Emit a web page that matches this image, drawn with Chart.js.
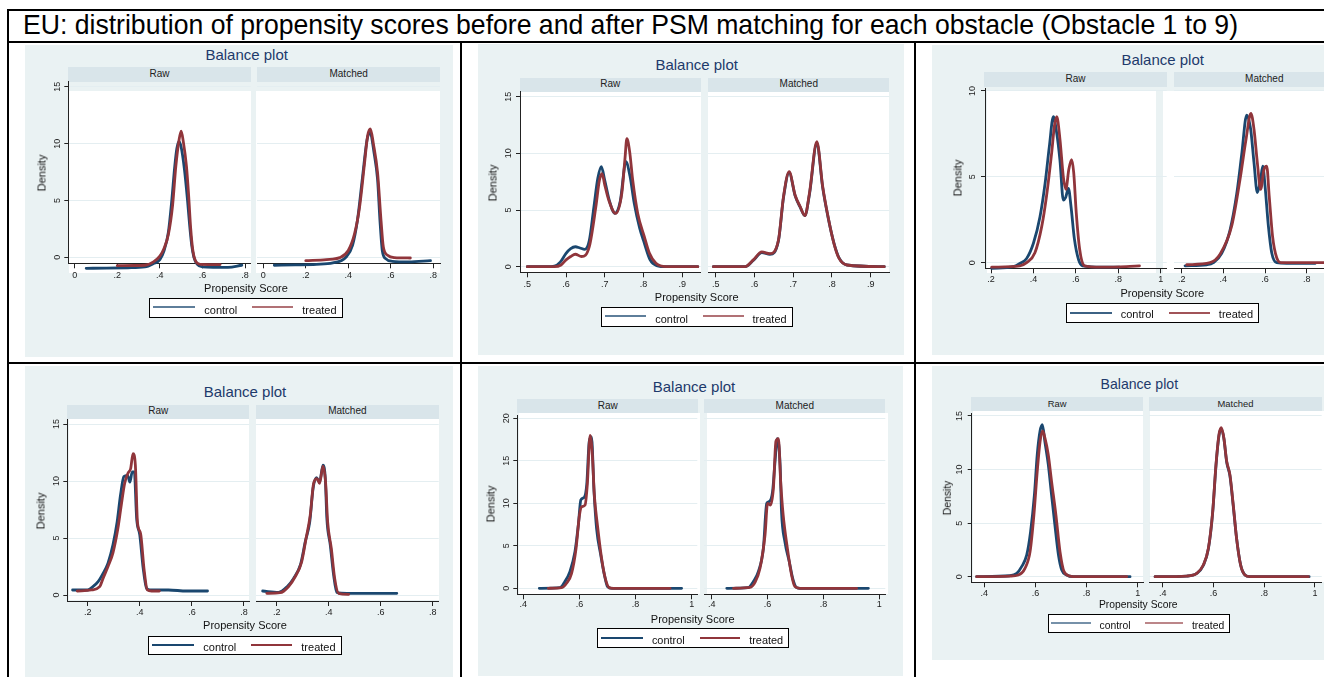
<!DOCTYPE html>
<html><head><meta charset="utf-8">
<script src="https://cdn.jsdelivr.net/npm/chart.js@4.4.1/dist/chart.umd.min.js"></script>
<style>
html,body{margin:0;padding:0;background:#fff;}
#root{position:relative;width:1324px;height:677px;overflow:hidden;font-family:"Liberation Sans",Arial,Helvetica,sans-serif;background:#fff;}
</style></head>
<body><div id="root"></div>
<script>
// ---------------- DATA ----------------
const TITLE = 'EU: distribution of propensity scores before and after PSM matching for each obstacle (Obstacle 1 to 9)';
const PANEL_TITLE = 'Balance plot';
const SUB_LABELS = ['Raw', 'Matched'];
const GROUP_LABELS = ['control', 'treated'];
const X_TITLE = 'Propensity Score';
const Y_TITLE = 'Density';

// Panel 1
const o1XTicks = [0, 0.2, 0.4, 0.6, 0.8];
const o1YTicks = [0, 5, 10, 15];
const o1RawControlX = [0.054, 0.15, 0.25, 0.33, 0.37, 0.40, 0.42, 0.44, 0.455, 0.47, 0.48, 0.49, 0.50, 0.515, 0.53, 0.54, 0.55, 0.56, 0.575, 0.60, 0.65, 0.72, 0.785];
const o1RawControlY = [-0.97, -0.95, -0.92, -0.85, -0.55, -0.2, 0.6, 2.2, 4.8, 8.0, 9.6, 10.2, 9.7, 7.8, 5.0, 2.8, 1.0, 0.0, -0.6, -0.85, -0.88, -0.88, -0.7];
const o1RawTreatedX = [0.20, 0.28, 0.33, 0.37, 0.40, 0.42, 0.44, 0.46, 0.475, 0.49, 0.50, 0.51, 0.525, 0.535, 0.545, 0.555, 0.567, 0.59, 0.683];
const o1RawTreatedY = [-0.74, -0.72, -0.7, -0.4, 0.1, 0.8, 2.0, 4.6, 8.0, 10.3, 11.1, 10.2, 8.0, 5.5, 2.5, 0.6, -0.3, -0.62, -0.64];
const o1MatchedControlX = [0.052, 0.15, 0.25, 0.327, 0.39, 0.42, 0.443, 0.467, 0.488, 0.502, 0.522, 0.538, 0.549, 0.56, 0.576, 0.607, 0.685, 0.787];
const o1MatchedControlY = [-0.7, -0.67, -0.62, -0.5, 0.03, 1.05, 3.25, 7.06, 10.3, 11.0, 9.1, 6.8, 3.25, 0.6, -0.12, -0.35, -0.4, -0.3];
const o1MatchedTreatedX = [0.20, 0.297, 0.36, 0.40, 0.43, 0.453, 0.476, 0.491, 0.504, 0.518, 0.538, 0.554, 0.565, 0.585, 0.617, 0.692];
const o1MatchedTreatedY = [-0.3, -0.2, -0.03, 0.6, 2.1, 4.4, 8.2, 10.7, 11.3, 10.0, 7.4, 3.25, 0.9, 0.18, -0.03, -0.06];

// Panel 2
const o2XTicks = [0.5, 0.6, 0.7, 0.8, 0.9];
const o2YTicks = [0, 5, 10, 15];
const o2RawControlX = [0.50, 0.55, 0.57, 0.585, 0.60, 0.612, 0.624, 0.636, 0.648, 0.66, 0.672, 0.682, 0.691, 0.70, 0.712, 0.726, 0.74, 0.7545, 0.765, 0.776, 0.79, 0.80, 0.817, 0.834, 0.86, 0.94];
const o2RawControlY = [0, 0, 0.05, 0.4, 1.18, 1.6, 1.76, 1.65, 1.53, 2.3, 5.3, 7.8, 8.82, 7.6, 5.8, 4.7, 5.8, 9.26, 8.0, 5.6, 3.4, 2.3, 0.6, 0.1, 0, 0];
const o2RawTreatedX = [0.50, 0.57, 0.587, 0.60, 0.612, 0.624, 0.64, 0.66, 0.677, 0.686, 0.693, 0.70, 0.71, 0.728, 0.744, 0.752, 0.757, 0.764, 0.772, 0.785, 0.802, 0.815, 0.832, 0.858, 0.94];
const o2RawTreatedY = [0, 0, 0.15, 0.6, 0.9, 1.1, 0.9, 1.76, 5.3, 7.6, 8.2, 7.2, 5.9, 4.7, 6.5, 9.5, 11.3, 10.2, 7.65, 4.7, 2.65, 1.2, 0.3, 0, 0];
const o2MatchedControlX = [0.494, 0.576, 0.597, 0.619, 0.64, 0.662, 0.675, 0.6895, 0.705, 0.718, 0.73, 0.742, 0.761, 0.776, 0.79, 0.805, 0.818, 0.839, 0.935];
const o2MatchedControlY = [0, 0, 0.55, 1.25, 1.1, 2.3, 6.1, 8.3, 6.25, 5.25, 4.5, 6.4, 10.9, 7.0, 4.35, 2.1, 0.8, 0.15, 0];
const o2MatchedTreatedX = [0.494, 0.576, 0.597, 0.619, 0.64, 0.662, 0.675, 0.6895, 0.705, 0.718, 0.73, 0.742, 0.761, 0.776, 0.79, 0.805, 0.818, 0.839, 0.935];
const o2MatchedTreatedY = [0, 0, 0.6, 1.3, 1.15, 2.35, 6.2, 8.38, 6.3, 5.3, 4.5, 6.5, 11.03, 7.1, 4.4, 2.06, 0.75, 0.15, 0];

// Panel 3
const o3XTicks = [0.2, 0.4, 0.6, 0.8, 1];
const o3YTicks = [0, 5, 10];
const o3RawControlX = [0.203, 0.305, 0.336, 0.368, 0.40, 0.431, 0.455, 0.475, 0.494, 0.51, 0.525, 0.541, 0.552, 0.565, 0.577, 0.593, 0.613, 0.632, 0.727, 0.805];
const o3RawControlY = [-0.33, -0.23, -0.04, 0.25, 1.13, 2.68, 4.62, 6.76, 8.5, 7.54, 5.98, 3.65, 3.8, 4.33, 3.3, 1.4, 0.17, -0.18, -0.26, -0.26];
const o3RawTreatedX = [0.203, 0.336, 0.368, 0.407, 0.439, 0.462, 0.486, 0.499, 0.51, 0.525, 0.541, 0.553, 0.567, 0.58, 0.59, 0.602, 0.618, 0.641, 0.712, 0.838, 0.90];
const o3RawTreatedY = [-0.26, -0.18, 0, 0.58, 2.1, 3.9, 6.4, 7.96, 8.5, 7.2, 5.0, 4.27, 5.44, 6.0, 5.24, 2.9, 0.78, -0.18, -0.26, -0.23, -0.18];
const o3MatchedControlX = [0.216, 0.32, 0.352, 0.392, 0.432, 0.464, 0.488, 0.512, 0.531, 0.547, 0.563, 0.579, 0.589, 0.60, 0.616, 0.632, 0.656, 0.704, 0.84];
const o3MatchedControlY = [-0.18, -0.12, 0, 0.54, 1.9, 4.0, 6.3, 8.6, 7.77, 5.83, 4.08, 4.86, 5.63, 4.47, 2.14, 0.58, 0, -0.04, -0.04];
const o3MatchedTreatedX = [0.224, 0.336, 0.384, 0.44, 0.48, 0.509, 0.532, 0.547, 0.563, 0.579, 0.595, 0.608, 0.62, 0.636, 0.656, 0.68, 0.88, 1.03];
const o3MatchedTreatedY = [-0.12, 0, 0.49, 2.14, 4.86, 7.2, 8.7, 7.77, 5.83, 4.27, 5.44, 5.63, 3.88, 1.55, 0.29, 0, 0, 0];

// Panel 4
const o4XTicks = [0.2, 0.4, 0.6, 0.8];
const o4YTicks = [0, 5, 10, 15];
const o4RawControlX = [0.142, 0.20, 0.22, 0.24, 0.259, 0.278, 0.297, 0.313, 0.326, 0.339, 0.353, 0.362, 0.371, 0.379, 0.388, 0.40, 0.413, 0.426, 0.439, 0.51, 0.58, 0.66];
const o4RawControlY = [0.44, 0.44, 0.73, 1.17, 1.9, 2.8, 4.4, 6.4, 8.77, 10.4, 10.5, 9.9, 10.8, 10.8, 6.7, 5.26, 2.34, 0.58, 0.44, 0.44, 0.35, 0.35];
const o4RawTreatedX = [0.16, 0.214, 0.246, 0.259, 0.278, 0.297, 0.316, 0.329, 0.342, 0.355, 0.365, 0.374, 0.383, 0.391, 0.403, 0.416, 0.429, 0.445, 0.475];
const o4RawTreatedY = [0.35, 0.44, 0.73, 1.46, 2.5, 3.7, 5.85, 7.9, 9.8, 10.7, 11.1, 12.4, 11.4, 6.4, 5.4, 2.34, 0.44, 0.35, 0.35];
const o4MatchedControlX = [0.146, 0.207, 0.24, 0.265, 0.291, 0.31, 0.327, 0.34, 0.353, 0.365, 0.378, 0.387, 0.393, 0.406, 0.419, 0.431, 0.47, 0.662];
const o4MatchedControlY = [0.35, 0.23, 0.73, 1.46, 2.63, 4.68, 6.4, 9.36, 10.3, 9.9, 11.4, 10.2, 6.7, 4.4, 1.75, 0.23, 0.15, 0.15];
const o4MatchedTreatedX = [0.162, 0.213, 0.245, 0.271, 0.296, 0.313, 0.329, 0.342, 0.355, 0.365, 0.378, 0.388, 0.396, 0.41, 0.423, 0.438, 0.477];
const o4MatchedTreatedY = [0.15, 0.2, 0.73, 1.6, 2.9, 4.97, 7.0, 9.8, 10.2, 9.8, 11.3, 9.9, 6.4, 4.1, 1.46, 0.15, 0.06];

// Panel 5
const o5XTicks = [0.4, 0.6, 0.8, 1];
const o5YTicks = [0, 5, 10, 15, 20];
const o5RawControlX = [0.457, 0.531, 0.548, 0.566, 0.584, 0.596, 0.605, 0.617, 0.626, 0.635, 0.643, 0.652, 0.661, 0.676, 0.689, 0.70, 0.715, 0.964];
const o5RawControlY = [0, 0.08, 0.78, 1.96, 4.3, 7.45, 10.4, 10.7, 12.2, 17.3, 17.8, 11.4, 7.06, 3.9, 1.57, 0.2, 0, 0];
const o5RawTreatedX = [0.489, 0.537, 0.554, 0.572, 0.588, 0.60, 0.608, 0.62, 0.628, 0.638, 0.646, 0.653, 0.664, 0.679, 0.692, 0.706, 0.721, 0.923];
const o5RawTreatedY = [0, 0.08, 0.6, 1.76, 4.7, 8.6, 9.6, 9.8, 12.2, 18.0, 15.7, 11.0, 7.45, 3.5, 1.18, 0.08, 0, 0];
const o5MatchedControlX = [0.454, 0.531, 0.549, 0.567, 0.585, 0.597, 0.606, 0.618, 0.627, 0.635, 0.645, 0.65, 0.662, 0.678, 0.69, 0.704, 0.716, 0.961];
const o5MatchedControlY = [0, 0.08, 0.78, 1.96, 4.7, 10.0, 10.2, 11.4, 15.0, 17.6, 14.5, 9.0, 5.5, 3.1, 1.18, 0.08, 0, 0];
const o5MatchedTreatedX = [0.478, 0.537, 0.555, 0.573, 0.591, 0.60, 0.611, 0.621, 0.63, 0.639, 0.647, 0.656, 0.671, 0.686, 0.698, 0.716, 0.919];
const o5MatchedTreatedY = [0, 0.1, 0.7, 2.35, 6.3, 10.0, 9.8, 11.8, 17.3, 17.6, 12.5, 8.6, 4.7, 1.57, 0.2, 0, 0];

// Panel 6
const o6XTicks = [0.4, 0.6, 0.8, 1];
const o6YTicks = [0, 5, 10, 15];
const o6RawControlX = [0.37, 0.50, 0.527, 0.546, 0.566, 0.581, 0.596, 0.607, 0.618, 0.627, 0.637, 0.65, 0.663, 0.676, 0.69, 0.703, 0.722, 0.748, 0.97];
const o6RawControlY = [0, 0.09, 0.31, 0.94, 2.03, 4.2, 7.65, 11.4, 13.6, 14.2, 12.6, 10.5, 7.65, 4.84, 2.03, 0.62, 0.16, 0, 0];
const o6RawTreatedX = [0.37, 0.50, 0.533, 0.559, 0.579, 0.594, 0.607, 0.618, 0.628, 0.637, 0.65, 0.663, 0.68, 0.696, 0.712, 0.735, 0.761, 0.957];
const o6RawTreatedY = [0, 0.06, 0.16, 0.78, 2.34, 5.77, 9.83, 12.6, 13.6, 12.95, 11.4, 8.9, 5.77, 2.34, 0.47, 0.06, 0, 0];
const o6MatchedControlX = [0.37, 0.494, 0.534, 0.56, 0.58, 0.597, 0.61, 0.622, 0.631, 0.641, 0.652, 0.665, 0.678, 0.691, 0.707, 0.724, 0.744, 0.977];
const o6MatchedControlY = [0, 0.06, 0.3, 1.05, 2.6, 6.0, 10.4, 13.2, 13.8, 12.9, 10.7, 9.4, 6.6, 3.6, 1.1, 0.16, 0, 0];
const o6MatchedTreatedX = [0.37, 0.494, 0.534, 0.56, 0.58, 0.597, 0.61, 0.622, 0.631, 0.641, 0.652, 0.665, 0.678, 0.691, 0.707, 0.724, 0.744, 0.974];
const o6MatchedTreatedY = [0, 0.06, 0.31, 1.09, 2.65, 6.08, 10.46, 13.3, 13.9, 12.95, 10.8, 9.5, 6.7, 3.6, 1.09, 0.16, 0, 0];

// ---------------- STYLE / LAYOUT ----------------
const BLUE = '#1a476f', RED = '#90353b';
const GRAPH_BG = '#eaf2f3', STRIP_BG = '#d9e5ea', GRID = '#e4eef1';
const FONT = '"Liberation Sans", Arial, Helvetica, sans-serif';
Chart.defaults.font.family = FONT;
Chart.defaults.color = '#222';

const PANELS = [
 {fs:1, bg:[25,45,453,357], titleC:[246.7,53.5],
  strip:{y:[66.7,81.7], raw:[68.3,250.7], matched:[257.3,440], labY:73.5},
  raw:{area:[68.3,81.7,250.7,263.3], white:[68.5,91,250.7,273], xr:[-0.030,0.8267]},
  matched:{area:[257.3,81.7,440,263.3], white:[256,91,440,273], xr:[-0.028,0.8315]},
  yr:[-0.528,15.448], xLabY:276, yLabX:57.3, xTitle:[246,288.3], yTitle:[41.7,173.3],
  legend:[149.3,297.7,193.4,20], legAlpha:0.7, xTicks:o1XTicks, yTicks:o1YTicks,
  series:{raw:[o1RawControlX,o1RawControlY,o1RawTreatedX,o1RawTreatedY], matched:[o1MatchedControlX,o1MatchedControlY,o1MatchedTreatedX,o1MatchedTreatedY]}},
 {fs:1, bg:[478,44,904,355], titleC:[696.7,64],
  strip:{y:[77.7,91.7], raw:[520,700.7], matched:[708.3,889.3], labY:83.5},
  raw:{area:[520,91.7,700.7,272.3], white:[521,91.7,700.7,273], xr:[0.4812,0.9475]},
  matched:{area:[708.3,91.7,889.3,272.3], white:[708.3,91.7,889.3,273], xr:[0.4809,0.948]},
  yr:[-0.494,15.44], xLabY:285, yLabX:508.3, xTitle:[696.7,297.3], yTitle:[493.3,183.3],
  legend:[600.7,306.7,192,20], legAlpha:0.7, xTicks:o2XTicks, yTicks:o2YTicks,
  series:{raw:[o2RawControlX,o2RawControlY,o2RawTreatedX,o2RawTreatedY], matched:[o2MatchedControlX,o2MatchedControlY,o2MatchedTreatedX,o2MatchedTreatedY]}},
 {fs:1, bg:[932,45,1324,355], titleC:[1162.7,59],
  strip:{y:[71.7,86.7], raw:[984.3,1166.7], matched:[1174,1354.6], labY:78.5},
  raw:{area:[985,88.3,1166.7,268.3], white:[986.7,91,1156,273], xr:[0.1717,1.0284]},
  matched:{area:[1174,88.3,1354.2,268.3], white:[1162.7,91,1324,273], xr:[0.163,1.028]},
  yr:[-0.326,10.157], xLabY:280, yLabX:972.7, xTitle:[1162.3,293.3], yTitle:[958.3,178.3],
  legend:[1065.7,303.3,193.6,20], legAlpha:0.85, xTicks:o3XTicks, yTicks:o3YTicks,
  series:{raw:[o3RawControlX,o3RawControlY,o3RawTreatedX,o3RawTreatedY], matched:[o3MatchedControlX,o3MatchedControlY,o3MatchedTreatedX,o3MatchedTreatedY]}},
 {fs:1, bg:[25,366,453,677], titleC:[245,390.5],
  strip:{y:[405,419], raw:[67.3,249.3], matched:[256,438.7], labY:410.5},
  raw:{area:[67.3,419,249.3,601], white:[68.5,419,249.3,600], xr:[0.1217,0.8204]},
  matched:{area:[256,419,438.7,601], white:[256,419,438.7,600], xr:[0.1204,0.8231]},
  yr:[-0.526,15.44], xLabY:612.3, yLabX:56.7, xTitle:[245,625], yTitle:[40.7,511],
  legend:[148.3,635.7,193.4,19.5], legAlpha:1, xTicks:o4XTicks, yTicks:o4YTicks,
  series:{raw:[o4RawControlX,o4RawControlY,o4RawTreatedX,o4RawTreatedY], matched:[o4MatchedControlX,o4MatchedControlY,o4MatchedTreatedX,o4MatchedTreatedY]}},
 {fs:1, bg:[478,366,903,676], titleC:[694,385.6],
  strip:{y:[399.3,413.3], raw:[517.3,698.3], matched:[704.3,885.3], labY:405.8},
  raw:{area:[517.3,415,697.3,594.3], white:[518.5,413.3,700,594], xr:[0.3786,1.0199]},
  matched:{area:[704.3,415,885.3,594.3], white:[707.3,413.3,887.7,594], xr:[0.3735,1.0216]},
  yr:[-0.706,20.39], xLabY:605, yLabX:506.7, xTitle:[692.7,619], yTitle:[490.7,504.3],
  legend:[597.3,628.3,192,20], legAlpha:1, xTicks:o5XTicks, yTicks:o5YTicks,
  series:{raw:[o5RawControlX,o5RawControlY,o5RawTreatedX,o5RawTreatedY], matched:[o5MatchedControlX,o5MatchedControlY,o5MatchedTreatedX,o5MatchedTreatedY]}},
 {fs:0.94, bg:[932,366,1324,660], titleC:[1139.3,383.8],
  strip:{y:[397.3,411], raw:[971,1143.3], matched:[1149.3,1321.7], labY:404},
  raw:{area:[971.7,413.3,1143.3,582.3], white:[973,411,1142.7,582], xr:[0.3507,1.0218]},
  matched:{area:[1149.3,413.3,1321.7,582.3], white:[1150,411,1324,582], xr:[0.3472,1.0265]},
  yr:[-0.523,15.25], xLabY:593.3, yLabX:960, xTitle:[1138.3,605], yTitle:[948.3,498.3],
  legend:[1047.7,614.3,182.3,19], legAlpha:0.6, xTicks:o6XTicks, yTicks:o6YTicks,
  series:{raw:[o6RawControlX,o6RawControlY,o6RawTreatedX,o6RawTreatedY], matched:[o6MatchedControlX,o6MatchedControlY,o6MatchedTreatedX,o6MatchedTreatedY]}}
];

// ---------------- HELPERS ----------------
const root = document.getElementById('root');
function rect(x0, y0, x1, y1, bg, extra) {
  const d = document.createElement('div');
  d.style.cssText = `position:absolute;left:${x0}px;top:${y0}px;width:${x1 - x0}px;height:${y1 - y0}px;background:${bg};${extra || ''}`;
  root.appendChild(d); return d;
}
function text(str, x, y, size, color, mode) {
  const d = document.createElement('div');
  d.textContent = str;
  let tr = 'translate(-50%,-50%)';
  if (mode === 'rot') tr = 'translate(-50%,-50%) rotate(-90deg)';
  if (mode === 'left') tr = 'translate(0,-50%)';
  d.style.cssText = `position:absolute;left:${x}px;top:${y}px;font-size:${size}px;line-height:1;color:${color};white-space:nowrap;transform:${tr};`;
  root.appendChild(d); return d;
}
function fmtTick(v) {
  if (v === 0) return '0';
  if (v === 1) return '1';
  return String(v).replace(/^0\./, '.');
}
function pts(xs, ys) { return xs.map((x, i) => ({x: x, y: ys[i]})); }

function makeChart(p, sub, isRaw, s) {
  const [L, T, R, B] = sub.area;
  const cl = Math.floor(L - (isRaw ? 30 : 0));
  const ct = Math.floor(T - 12);
  const cr = Math.ceil(R + 8);
  const cb = Math.ceil(B + 24);
  const W = cr - cl, H = cb - ct;
  const cv = document.createElement('canvas');
  cv.width = W; cv.height = H;
  cv.style.cssText = `position:absolute;left:${cl}px;top:${ct}px;width:${W}px;height:${H}px;`;
  root.appendChild(cv);
  const yTL = 4, xTL = 5;
  const yPad = L - yTL - 5 - p.yLabX;
  const xPad = (p.xLabY - B) - xTL - 5.4;
  new Chart(cv, {
    type: 'line',
    data: {datasets: [
      {label: GROUP_LABELS[1], data: pts(s[2], s[3]), borderColor: RED, order: 0},
      {label: GROUP_LABELS[0], data: pts(s[0], s[1]), borderColor: BLUE, order: 1}
    ].map(d => Object.assign(d, {borderWidth: 2.8, pointRadius: 0, fill: false, clip: false,
        cubicInterpolationMode: 'monotone', borderJoinStyle: 'round', borderCapStyle: 'round'}))},
    options: {
      responsive: false, animation: false, devicePixelRatio: 1,
      layout: {padding: {top: T - ct, right: cr - R, left: 0, bottom: 0}},
      plugins: {legend: {display: false}, tooltip: {enabled: false}},
      events: [],
      scales: {
        x: {type: 'linear', min: sub.xr[0], max: sub.xr[1],
          afterFit: sc => { sc.height = cb - B; },
          afterBuildTicks: sc => { sc.ticks = p.xTicks.map(v => ({value: v})); },
          ticks: {autoSkip: false, minRotation: 0, maxRotation: 0, padding: xPad, font: {size: 9}, color: '#222', callback: v => fmtTick(v)},
          grid: {drawOnChartArea: false, drawTicks: true, tickLength: xTL, tickColor: '#222', tickWidth: 1},
          border: {display: true, color: '#222', width: 1}},
        y: {type: 'linear', min: p.yr[0], max: p.yr[1],
          afterFit: sc => { sc.width = L - cl; },
          afterBuildTicks: sc => { sc.ticks = p.yTicks.map(v => ({value: v})); },
          ticks: {display: isRaw, minRotation: 90, maxRotation: 90, crossAlign: 'center', padding: yPad, font: {size: 9}, color: '#222'},
          grid: {color: GRID, lineWidth: 1, drawTicks: isRaw, tickLength: yTL, tickColor: '#222', tickWidth: 1},
          border: {display: isRaw, color: '#222', width: 1}}
      }
    }
  });
}

// ---------------- BUILD ----------------
PANELS.forEach(p => {
  const fs = p.fs;
  rect(p.bg[0], p.bg[1], p.bg[2], p.bg[3], GRAPH_BG);
  text(PANEL_TITLE, p.titleC[0], p.titleC[1], 15 * fs, '#1e3a6b');
  rect(p.strip.raw[0], p.strip.y[0], p.strip.raw[1], p.strip.y[1], STRIP_BG);
  rect(p.strip.matched[0], p.strip.y[0], p.strip.matched[1], p.strip.y[1], STRIP_BG);
  text(SUB_LABELS[0], (p.strip.raw[0] + p.strip.raw[1]) / 2, p.strip.labY, 10 * fs, '#222');
  text(SUB_LABELS[1], (p.strip.matched[0] + p.strip.matched[1]) / 2, p.strip.labY, 10 * fs, '#222');
  rect(p.raw.white[0], p.raw.white[1], p.raw.white[2], p.raw.white[3], '#fff');
  rect(p.matched.white[0], p.matched.white[1], p.matched.white[2], p.matched.white[3], '#fff');
  makeChart(p, p.raw, true, p.series.raw);
  makeChart(p, p.matched, false, p.series.matched);
  text(X_TITLE, p.xTitle[0], p.xTitle[1], 11 * fs, '#111');
  text(Y_TITLE, p.yTitle[0], p.yTitle[1], 11 * fs, '#111', 'rot');
  // legend
  const [lx, ly, lw, lh] = p.legend;
  const k = lw / 193.4;
  rect(lx, ly, lx + lw, ly + lh, '#fff', 'border:1px solid #000;box-sizing:border-box;');
  const lineY = ly + lh * 0.48;
  rect(lx + 4 * k, lineY - 1, lx + 46 * k, lineY + 1, BLUE, `opacity:${p.legAlpha};`);
  rect(lx + 103 * k, lineY - 1, lx + 144 * k, lineY + 1, RED, `opacity:${p.legAlpha};`);
  text(GROUP_LABELS[0], lx + 55 * k, ly + lh * 0.6, 11 * k, '#111', 'left');
  text(GROUP_LABELS[1], lx + 153 * k, ly + lh * 0.6, 11 * k, '#111', 'left');
});

// table frame
rect(7, 9, 1324, 11, '#000');
rect(7, 9, 9, 677, '#000');
rect(7, 41, 1324, 43, '#000');
rect(7, 362, 1324, 364, '#000');
rect(460, 41, 462, 677, '#000');
rect(914, 41, 916, 677, '#000');

// main title
const t = document.createElement('div');
t.textContent = TITLE;
t.style.cssText = 'position:absolute;left:23px;top:11.3px;font-size:28px;line-height:1;color:#000;white-space:nowrap;transform-origin:0 0;';
root.appendChild(t);
const tw = t.getBoundingClientRect().width;
t.style.transform = `scaleX(${1215 / tw})`;
</script>
</body></html>
